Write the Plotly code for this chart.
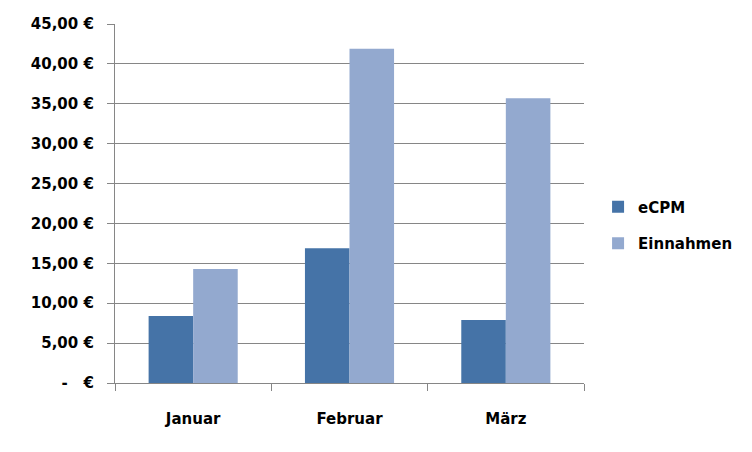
import plotly.graph_objects as go

categories = ["Januar", "Februar", "März"]
ecpm = [8.4, 16.9, 7.9]
einnahmen = [14.3, 41.9, 35.7]
y_tick_values = [0, 5, 10, 15, 20, 25, 30, 35, 40, 45]
y_tick_labels = ["-   €", "5,00 €", "10,00 €", "15,00 €", "20,00 €", "25,00 €",
                 "30,00 €", "35,00 €", "40,00 €", "45,00 €"]

font_family = "DejaVu Sans"
axis_color = "#868686"

fig = go.Figure()
fig.add_trace(go.Bar(x=categories, y=ecpm, name="eCPM", marker_color="#4573A7",
                     marker_line_width=0, legendgroup="a"))
fig.add_trace(go.Bar(x=categories, y=einnahmen, name="Einnahmen", marker_color="#93A9CF",
                     marker_line_width=0, legendgroup="b"))

fig.update_layout(
    width=744, height=444,
    margin=dict(l=107, r=168, t=16, b=69),
    paper_bgcolor="white", plot_bgcolor="white",
    barmode="group", bargap=0.43, bargroupgap=0,
    font=dict(family=font_family, size=14, color="black"),
    legend=dict(x=1.03, y=0.44, xanchor="left", yanchor="middle",
                font=dict(family=font_family, size=15, color="black", weight="bold"),
                tracegroupgap=14, bgcolor="rgba(0,0,0,0)", itemwidth=30),
    showlegend=True,
)
fig.update_xaxes(
    showline=True, linecolor=axis_color, linewidth=1.2,
    ticks="outside", tickson="boundaries", ticklen=7, tickcolor=axis_color, tickwidth=1.2,
    showgrid=False, automargin=False,
    tickfont=dict(family=font_family, size=15, color="black", weight="bold"),
    ticklabelstandoff=22,
)
fig.update_yaxes(
    range=[0, 45], tickvals=y_tick_values, ticktext=y_tick_labels,
    showline=True, linecolor=axis_color, linewidth=1.2,
    ticks="outside", ticklen=7, tickcolor=axis_color, tickwidth=1.2,
    showgrid=True, gridcolor=axis_color, gridwidth=1.2,
    zeroline=False, automargin=False,
    tickfont=dict(family=font_family, size=15, color="black", weight="bold"),
    ticklabelstandoff=10,
)

fig.write_html("out.html")
